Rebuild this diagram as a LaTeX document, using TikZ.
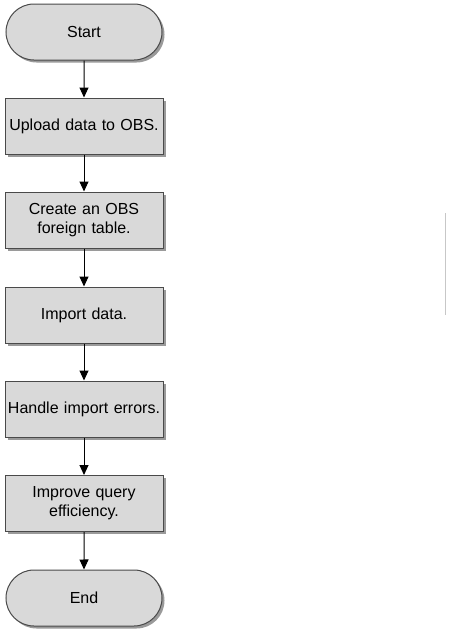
\documentclass[tikz,border=0pt]{standalone}
\usepackage{fontspec}
\setmainfont{Liberation Sans}
\usetikzlibrary{shapes.misc,shadows,arrows.meta}
\definecolor{boxfill}{HTML}{D9D9D9}
\definecolor{boxline}{HTML}{4A4A4A}
\definecolor{shadowc}{HTML}{9A9A9A}
\begin{document}
\begin{tikzpicture}[x=1pt,y=-1pt,
  base/.style={draw=boxline, line width=1pt, fill=boxfill, minimum width=158pt, minimum height=56pt,
    inner sep=1pt, align=center, font=\fontsize{16}{19}\selectfont,
    drop shadow={shadow xshift=2.5pt, shadow yshift=-2.5pt, fill=shadowc, opacity=1}},
  procbox/.style={base, rectangle, text width=154pt},
  termbox/.style={base, rounded rectangle},
  flow/.style={-{Triangle[length=10pt,width=9pt]}, line width=1pt, black}]
\useasboundingbox (0,0) rectangle (451,635);
\node[termbox] (start) at (84,32) {Start};
\node[procbox] (b1) at (84,126) {Upload data to OBS.};
\node[procbox] (b2) at (84,220) {Create an OBS\\foreign table.};
\node[procbox] (b3) at (84,315) {Import data.};
\node[procbox] (b4) at (84,409) {Handle import errors.};
\node[procbox] (b5) at (84,503.5) {Improve query\\efficiency.};
\node[termbox] (end) at (84,598) {End};
\draw[flow] (start) -- (b1);
\draw[flow] (b1) -- (b2);
\draw[flow] (b2) -- (b3);
\draw[flow] (b3) -- (b4);
\draw[flow] (b4) -- (b5);
\draw[flow] (b5) -- (end);
\coordinate (l1) at (445.5,213);
\coordinate (l2) at (445.5,315);
\draw[color=black!22, line width=1pt] (l1) -- (l2);
\end{tikzpicture}
\end{document}
